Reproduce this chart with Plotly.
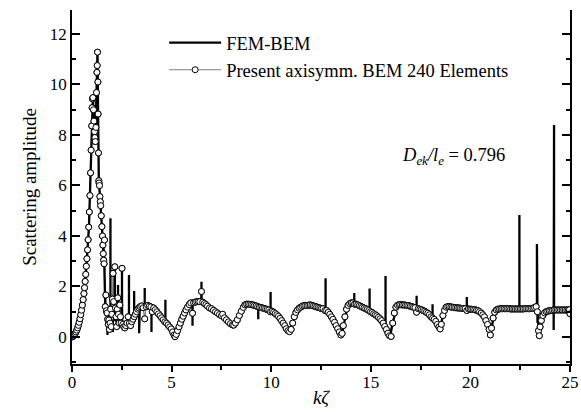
import plotly.graph_objects as go

# ---------------- data ----------------
# Present axisymmetric BEM (240 elements) - sampled points
bem_x = [0.00, 0.04, 0.08, 0.12, 0.16, 0.20, 0.24, 0.28, 0.32, 0.36, 0.40, 0.44, 0.48, 0.52, 0.56,
         0.60, 0.63, 0.66, 0.69, 0.72, 0.75, 0.78, 0.81, 0.84, 0.87, 0.90, 0.93, 0.96, 0.99, 1.01,
         1.03, 1.05, 1.08, 1.10, 1.13, 1.15, 1.17, 1.20, 1.23, 1.25, 1.265, 1.28, 1.30, 1.31, 1.33,
         1.345, 1.36, 1.38, 1.40, 1.42, 1.44, 1.47, 1.50, 1.53, 1.55, 1.57, 1.59, 1.61, 1.63, 1.67,
         1.70, 1.73, 1.76, 1.79, 1.82, 1.85, 1.88, 1.91, 1.94, 1.97, 2.00, 2.03, 2.06, 2.09, 2.15,
         2.18, 2.21, 2.24, 2.27, 2.30, 2.33, 2.36, 2.40, 2.43, 2.46, 2.51, 2.55, 2.60, 2.65, 2.70,
         2.76, 2.82, 2.88, 2.94, 3.00, 3.06, 3.12, 3.18, 3.24, 3.30, 3.36, 3.42, 3.50, 3.57, 3.65,
         3.72, 3.80, 3.88, 3.96, 4.03, 4.10, 4.18, 4.26, 4.34, 4.42, 4.50, 4.58, 4.66, 4.74, 4.82,
         4.90, 4.98, 5.05, 5.12, 5.17, 5.23, 5.30, 5.37, 5.44, 5.51, 5.58, 5.65, 5.72, 5.80, 5.88,
         5.96, 6.05, 6.10, 6.18, 6.26, 6.34, 6.42, 6.50, 6.56, 6.64, 6.72, 6.80, 6.90, 7.00, 7.10,
         7.20, 7.30, 7.40, 7.50, 7.56, 7.65, 7.75, 7.85, 7.95, 8.05, 8.12, 8.20, 8.30, 8.40, 8.50,
         8.60, 8.68, 8.76, 8.84, 8.92, 9.00, 9.08, 9.16, 9.24, 9.32, 9.40, 9.48, 9.56, 9.64, 9.72,
         9.80, 9.88, 9.96, 10.04, 10.12, 10.20, 10.28, 10.36, 10.44, 10.52, 10.60, 10.68, 10.76, 10.84, 10.92,
         11.00, 11.08, 11.16, 11.24, 11.32, 11.40, 11.48, 11.56, 11.64, 11.72, 11.80, 11.88, 11.96, 12.04, 12.12,
         12.20, 12.28, 12.36, 12.44, 12.52, 12.60, 12.70, 12.78, 12.86, 12.94, 13.02, 13.10, 13.18, 13.26, 13.34,
         13.42, 13.50, 13.56, 13.62, 13.70, 13.78, 13.86, 13.94, 14.02, 14.10, 14.18, 14.26, 14.34, 14.42, 14.50,
         14.58, 14.66, 14.74, 14.82, 14.90, 14.98, 15.06, 15.14, 15.22, 15.30, 15.38, 15.46, 15.54, 15.62, 15.70,
         15.78, 15.86, 15.94, 16.02, 16.10, 16.18, 16.26, 16.34, 16.42, 16.50, 16.58, 16.66, 16.74, 16.82, 16.90,
         16.98, 17.06, 17.14, 17.22, 17.30, 17.38, 17.46, 17.54, 17.62, 17.70, 17.78, 17.86, 17.94, 18.02, 18.10,
         18.18, 18.26, 18.34, 18.42, 18.48, 18.54, 18.62, 18.70, 18.78, 18.86, 18.94, 19.02, 19.10, 19.18, 19.26,
         19.34, 19.42, 19.50, 19.58, 19.66, 19.74, 19.82, 19.90, 19.98, 20.06, 20.14, 20.22, 20.30, 20.38, 20.46,
         20.54, 20.62, 20.70, 20.78, 20.86, 20.94, 21.00, 21.06, 21.14, 21.22, 21.30, 21.38, 21.46, 21.54, 21.62,
         21.70, 21.78, 21.86, 21.94, 22.02, 22.10, 22.18, 22.26, 22.34, 22.42, 22.50, 22.58, 22.66, 22.74, 22.82,
         22.90, 22.98, 23.06, 23.14, 23.22, 23.30, 23.36, 23.42, 23.46, 23.50, 23.56, 23.64, 23.72, 23.80, 23.88,
         23.96, 24.04, 24.12, 24.20, 24.28, 24.36, 24.44, 24.52, 24.60, 24.68, 24.76, 24.84, 24.92, 24.97, 25.00]
bem_y = [0.00, 0.02, 0.05, 0.09, 0.14, 0.20, 0.27, 0.36, 0.46, 0.58, 0.72, 0.88, 1.06, 1.26, 1.48,
         1.72, 1.95, 2.20, 2.48, 2.80, 3.10, 3.45, 3.85, 4.35, 4.95, 5.60, 6.50, 7.40, 8.36, 9.08,
         9.43, 9.48, 9.00, 8.55, 8.13, 7.90, 7.74, 8.30, 9.68, 10.48, 10.75, 11.28, 10.10, 8.83, 7.29,
         6.19, 6.10, 6.00, 5.56, 5.36, 5.20, 4.80, 4.37, 4.00, 3.64, 3.30, 3.04, 2.90, 3.84, 1.20,
         1.66, 1.04, 0.95, 0.70, 0.50, 0.67, 0.30, 0.55, 1.10, 0.41, 0.90, 1.50, 2.52, 1.40, 2.78,
         1.15, 0.80, 0.41, 1.10, 1.55, 0.90, 0.55, 1.27, 0.80, 0.55, 2.72, 0.50, 0.41, 0.36, 0.45,
         0.55, 0.80, 0.55, 0.45, 0.60, 0.70, 0.80, 0.90, 1.00, 1.10, 1.15, 1.20, 1.23, 1.16, 0.72,
         1.20, 1.25, 1.22, 1.19, 1.00, 1.15, 1.08, 1.00, 0.92, 0.84, 0.76, 0.68, 0.60, 0.55, 0.48,
         0.40, 0.32, 0.20, 0.08, 0.01, 0.10, 0.25, 0.40, 0.55, 0.70, 0.82, 0.95, 1.07, 1.18, 1.28,
         1.35, 0.94, 1.36, 1.38, 1.40, 1.40, 1.40, 1.80, 1.38, 1.33, 1.28, 1.22, 1.15, 1.12, 1.06,
         1.00, 0.95, 0.89, 0.84, 0.90, 0.76, 0.68, 0.60, 0.53, 0.48, 0.47, 0.55, 0.68, 0.85, 1.02,
         1.17, 1.27, 1.30, 1.30, 1.29, 1.28, 1.27, 1.25, 1.23, 1.20, 1.18, 1.17, 1.15, 1.13, 1.11,
         1.09, 1.07, 1.00, 1.02, 0.98, 0.93, 0.88, 0.82, 0.74, 0.65, 0.55, 0.45, 0.33, 0.25, 0.21,
         0.30, 0.55, 0.80, 0.97, 1.07, 1.14, 1.18, 1.22, 1.24, 1.25, 1.25, 1.26, 1.27, 1.25, 1.23,
         1.21, 1.19, 1.17, 1.15, 1.13, 1.12, 1.05, 1.05, 0.98, 0.90, 0.80, 0.70, 0.58, 0.45, 0.33,
         0.20, 0.08, 0.14, 0.45, 0.80, 1.10, 1.25, 1.32, 1.35, 1.35, 1.30, 1.30, 1.27, 1.24, 1.21,
         1.18, 1.15, 1.12, 1.09, 1.05, 1.00, 0.97, 0.92, 0.88, 0.84, 0.78, 0.72, 0.65, 0.55, 0.42,
         0.30, 0.15, 0.05, 0.02, 0.55, 0.95, 1.18, 1.25, 1.28, 1.28, 1.27, 1.27, 1.26, 1.25, 1.24,
         1.22, 1.20, 1.18, 1.16, 0.98, 1.12, 1.10, 1.08, 1.05, 1.02, 0.98, 0.94, 0.88, 0.80, 0.75,
         0.70, 0.62, 0.50, 0.40, 0.32, 0.50, 0.85, 1.05, 1.18, 1.20, 1.20, 1.19, 1.18, 1.17, 1.16,
         1.15, 1.15, 1.14, 1.13, 1.13, 1.12, 1.05, 1.11, 1.10, 1.10, 1.09, 1.08, 1.06, 1.04, 1.00,
         0.95, 0.88, 0.80, 0.65, 0.50, 0.30, 0.08, 0.35, 0.75, 0.98, 1.07, 1.10, 1.11, 1.12, 1.12,
         1.12, 1.12, 1.12, 1.12, 1.11, 1.11, 1.11, 1.11, 1.11, 1.11, 1.11, 1.11, 1.11, 1.12, 1.12,
         1.12, 1.12, 1.13, 1.14, 1.16, 1.20, 1.00, 0.25, 0.05, 0.40, 0.65, 0.85, 0.95, 1.00, 1.02,
         1.04, 1.05, 1.06, 1.07, 1.07, 1.07, 1.07, 1.07, 1.07, 1.07, 1.07, 1.07, 1.07, 1.08, 0.92]

# FEM-BEM smooth part
fem_x = [0.0, 0.2, 0.4, 0.6, 0.75, 0.85, 0.9, 0.96, 1.01, 1.05, 1.10, 1.17, 1.23, 1.28, 1.31,
         1.345, 1.40, 1.47, 1.55, 1.62, 1.67, 1.72, 1.80, 1.90, 2.0, 2.1, 2.2, 2.3, 2.4, 2.5,
         2.6, 2.7, 2.8, 2.9, 3.0, 3.1, 3.2, 3.3, 3.4, 3.5, 3.6, 3.7, 3.8, 3.9, 4.0,
         4.2, 4.4, 4.6, 4.8, 5.0, 5.17, 5.4, 5.6, 5.8, 6.0, 6.3, 6.6, 7.0, 7.5, 8.0,
         8.12, 8.4, 8.7, 9.0, 9.5, 10.0, 10.4, 10.7, 10.92, 11.1, 11.3, 11.6, 12.0, 12.5, 12.9,
         13.2, 13.5, 13.6, 13.8, 14.0, 14.1, 14.5, 15.0, 15.4, 15.7, 15.95, 16.1, 16.3, 16.6, 17.0,
         17.5, 17.9, 18.2, 18.48, 18.6, 18.8, 19.2, 19.8, 20.3, 20.6, 20.85, 21.0, 21.15, 21.3, 21.6,
         22.5, 23.2, 23.3, 23.45, 23.6, 23.8, 24.1, 25.0]
fem_y = [0.0, 0.2, 0.72, 1.72, 3.1, 4.35, 5.6, 7.4, 9.08, 9.5, 8.6, 7.7, 9.7, 11.3, 8.8,
         6.2, 5.6, 4.8, 4.0, 2.9, 1.2, 1.0, 0.7, 0.5, 0.6, 0.7, 0.65, 0.55, 0.5, 0.45,
         0.4, 0.4, 0.5, 0.55, 0.65, 0.75, 0.9, 1.0, 1.1, 1.15, 1.2, 1.22, 1.25, 1.22, 1.18,
         1.08, 0.9, 0.7, 0.5, 0.3, 0.02, 0.5, 0.85, 1.18, 1.35, 1.4, 1.35, 1.12, 0.84, 0.5,
         0.47, 0.85, 1.28, 1.28, 1.16, 1.05, 0.8, 0.42, 0.21, 0.6, 1.05, 1.23, 1.27, 1.14, 0.95,
         0.55, 0.08, 0.3, 1.1, 1.35, 1.35, 1.21, 1.0, 0.76, 0.42, 0.03, 0.55, 1.22, 1.27, 1.21,
         1.09, 0.9, 0.68, 0.3, 0.8, 1.18, 1.17, 1.12, 1.06, 0.88, 0.5, 0.05, 0.75, 1.07, 1.12,
         1.11, 1.15, 1.18, 0.02, 0.8, 1.0, 1.06, 1.07]

# FEM-BEM spikes: position, extreme value, local base value
spike_x    = [1.78, 1.93, 2.05, 2.15, 2.31, 2.51, 2.86, 3.12, 3.37, 3.65, 3.99, 4.69, 6.05, 6.50,
              9.35, 9.97, 12.73, 14.17, 14.94, 15.74, 17.30, 18.10, 19.82, 22.46, 23.34, 23.37,
              24.18, 24.20]
spike_ext  = [0.08, 4.70, 0.20, 2.65, 2.06, 2.72, 2.45, 1.82, 0.15, 1.94, 0.20, 1.47, 0.44, 2.19,
              0.70, 1.78, 2.33, 1.74, 1.92, 2.42, 1.63, 1.30, 1.58, 4.83, 3.68, 0.55,
              0.28, 8.40]
spike_base = [0.75, 0.55, 0.60, 0.70, 0.55, 0.45, 0.52, 0.77, 1.08, 1.21, 1.18, 0.62, 1.36, 1.37,
              1.20, 1.05, 1.07, 1.33, 1.02, 0.38, 1.14, 0.76, 1.12, 1.11, 1.18, 1.18,
              1.07, 1.07]

x_tick_vals = [0, 5, 10, 15, 20, 25]
y_tick_vals = [0, 2, 4, 6, 8, 10, 12]

# ------------- build FEM path -------------
pts = [(x, 0, y) for x, y in zip(fem_x, fem_y)]
for sx, se, sb in zip(spike_x, spike_ext, spike_base):
    pts += [(sx, 1, sb), (sx, 2, se), (sx, 3, sb)]
pts.sort(key=lambda p: (p[0], p[1]))
fem_path_x = [p[0] for p in pts]
fem_path_y = [p[2] for p in pts]

FONT = "Liberation Serif, Times New Roman, serif"

fig = go.Figure()
# BEM line (behind), carries legend entry
fig.add_trace(go.Scatter(
    x=bem_x, y=bem_y, mode="lines+markers", name="Present axisymm. BEM 240 Elements",
    line=dict(color="#7f7f7f", width=1.2),
    marker=dict(symbol="circle", size=6, color="white", line=dict(color="black", width=1)),
    legendrank=2, legendgroup="b"))
fig.add_trace(go.Scatter(
    x=fem_path_x, y=fem_path_y, mode="lines", name="FEM-BEM",
    line=dict(color="black", width=2.3), legendrank=1, legendgroup="a"))
# BEM markers on top
fig.add_trace(go.Scatter(
    x=bem_x, y=bem_y, mode="markers", showlegend=False,
    marker=dict(symbol="circle", size=6, color="white", line=dict(color="black", width=1))))

axis_common = dict(showgrid=False, zeroline=False, showline=True, linecolor="black", linewidth=1.5,
                   tickcolor="black", tickwidth=1.5, automargin=False,
                   tickfont=dict(family=FONT, size=17, color="black"))

fig.update_layout(
    width=581, height=412,
    margin=dict(l=72, r=11, t=10, b=48),
    paper_bgcolor="white", plot_bgcolor="white",
    font=dict(family=FONT, color="black"),
    xaxis=dict(range=[0, 25], tickvals=x_tick_vals, ticks="outside", ticklen=6, ticklabelstandoff=-4,
               minor=dict(dtick=2.5, tick0=0, ticks="outside", ticklen=4, tickcolor="black", tickwidth=1.5),
               title=dict(text="<i>kζ</i>", font=dict(family=FONT, size=19), standoff=0),
               **axis_common),
    xaxis2=dict(range=[0, 25], overlaying="x", side="top", anchor="y", tickvals=x_tick_vals,
                ticks="inside", ticklen=7, showticklabels=False,
                minor=dict(dtick=2.5, tick0=0, ticks="inside", ticklen=4, tickcolor="black", tickwidth=1.5),
                **axis_common),
    yaxis=dict(range=[-1.07, 12.95], tickvals=y_tick_vals, ticks="inside", ticklen=8, mirror="ticks",
               minor=dict(dtick=1, tick0=0, ticks="inside", ticklen=4, tickcolor="black", tickwidth=1.5),
               title=dict(text="Scattering amplitude", font=dict(family=FONT, size=19), standoff=8),
               **axis_common),
    legend=dict(x=0.185, y=0.96, xanchor="left", yanchor="top", bgcolor="rgba(0,0,0,0)",
                font=dict(family=FONT, size=18.5, color="black"), itemwidth=52,
                tracegroupgap=4, traceorder="normal"),
    annotations=[dict(
        text="<i>D</i><sub><i>ek</i></sub><i>/l</i><sub><i>e</i></sub> = 0.796",
        xref="paper", yref="paper", x=0.659, y=0.585, xanchor="left", yanchor="middle",
        showarrow=False, font=dict(family=FONT, size=18.5, color="black"))],
)
fig.write_html("out.html")
